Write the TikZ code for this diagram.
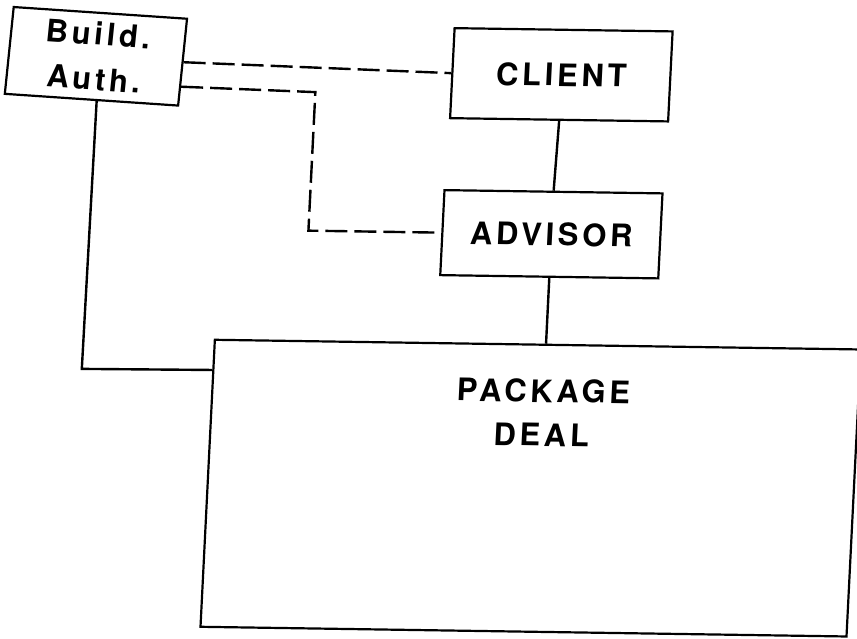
\documentclass[tikz,border=0pt]{standalone}
\usepackage{fontspec}
\usetikzlibrary{calc}
\newfontfamily\boxfont[LetterSpace=12]{TeX Gyre Heros}
\begin{document}
\begin{tikzpicture}[x=1pt,y=-1pt,
  box/.style={draw, line width=2.2pt, inner sep=0pt, align=center,
    font=\boxfont\bfseries\fontsize{31}{45}\selectfont},
  caption/.style={inner sep=0pt, align=center,
    font=\boxfont\bfseries\fontsize{31}{44}\selectfont},
  link/.style={line width=2.4pt},
  dashlink/.style={line width=2.4pt, dash pattern=on 22pt off 7pt}]
\useasboundingbox (0,0) rectangle (857,639);
% the whole chart is drawn slightly skewed, as on the original sheet
\begin{scope}[cm={1,-0.015,0.05,1,(16pt,6.45pt)}, transform shape]
  \node[box, minimum width=174pt, minimum height=87pt, rotate=-3] (auth) at (83,61.5) {Build.\\Auth.};
  \node[box, minimum width=218pt, minimum height=90pt] (client) at (549,73) {CLIENT};
  \node[box, minimum width=218pt, minimum height=85pt] (advisor) at (547,232.5) {ADVISOR};
  \node[box, minimum width=646pt, minimum height=287pt] (package) at (539,486.5) {};
  \node[caption] (pkgtext) at (547,411) {PACKAGE\\DEAL};

  % dashed links from the building authority
  \draw[dashlink] (auth.east) -- (client.west);
  \coordinate (bendA) at (304,94);
  \coordinate (bendB) at (304,232.5);
  \draw[dashlink] ($(auth.east)!0.55!(auth.south east)$) -- (bendA) -- (bendB) -- (advisor.west);

  % solid links
  \draw[link] (client.south) -- (advisor.north);
  \draw[link] (advisor.south) -- ($(package.north west)!0.5124!(package.north east)$);
  \coordinate (elbow) at (84.5,374);
  \draw[link] ($(auth.south)!0.06!(auth.south east)$) -- (elbow) -- ($(package.north west)!0.108!(package.south west)$);
\end{scope}
\end{tikzpicture}
\end{document}
